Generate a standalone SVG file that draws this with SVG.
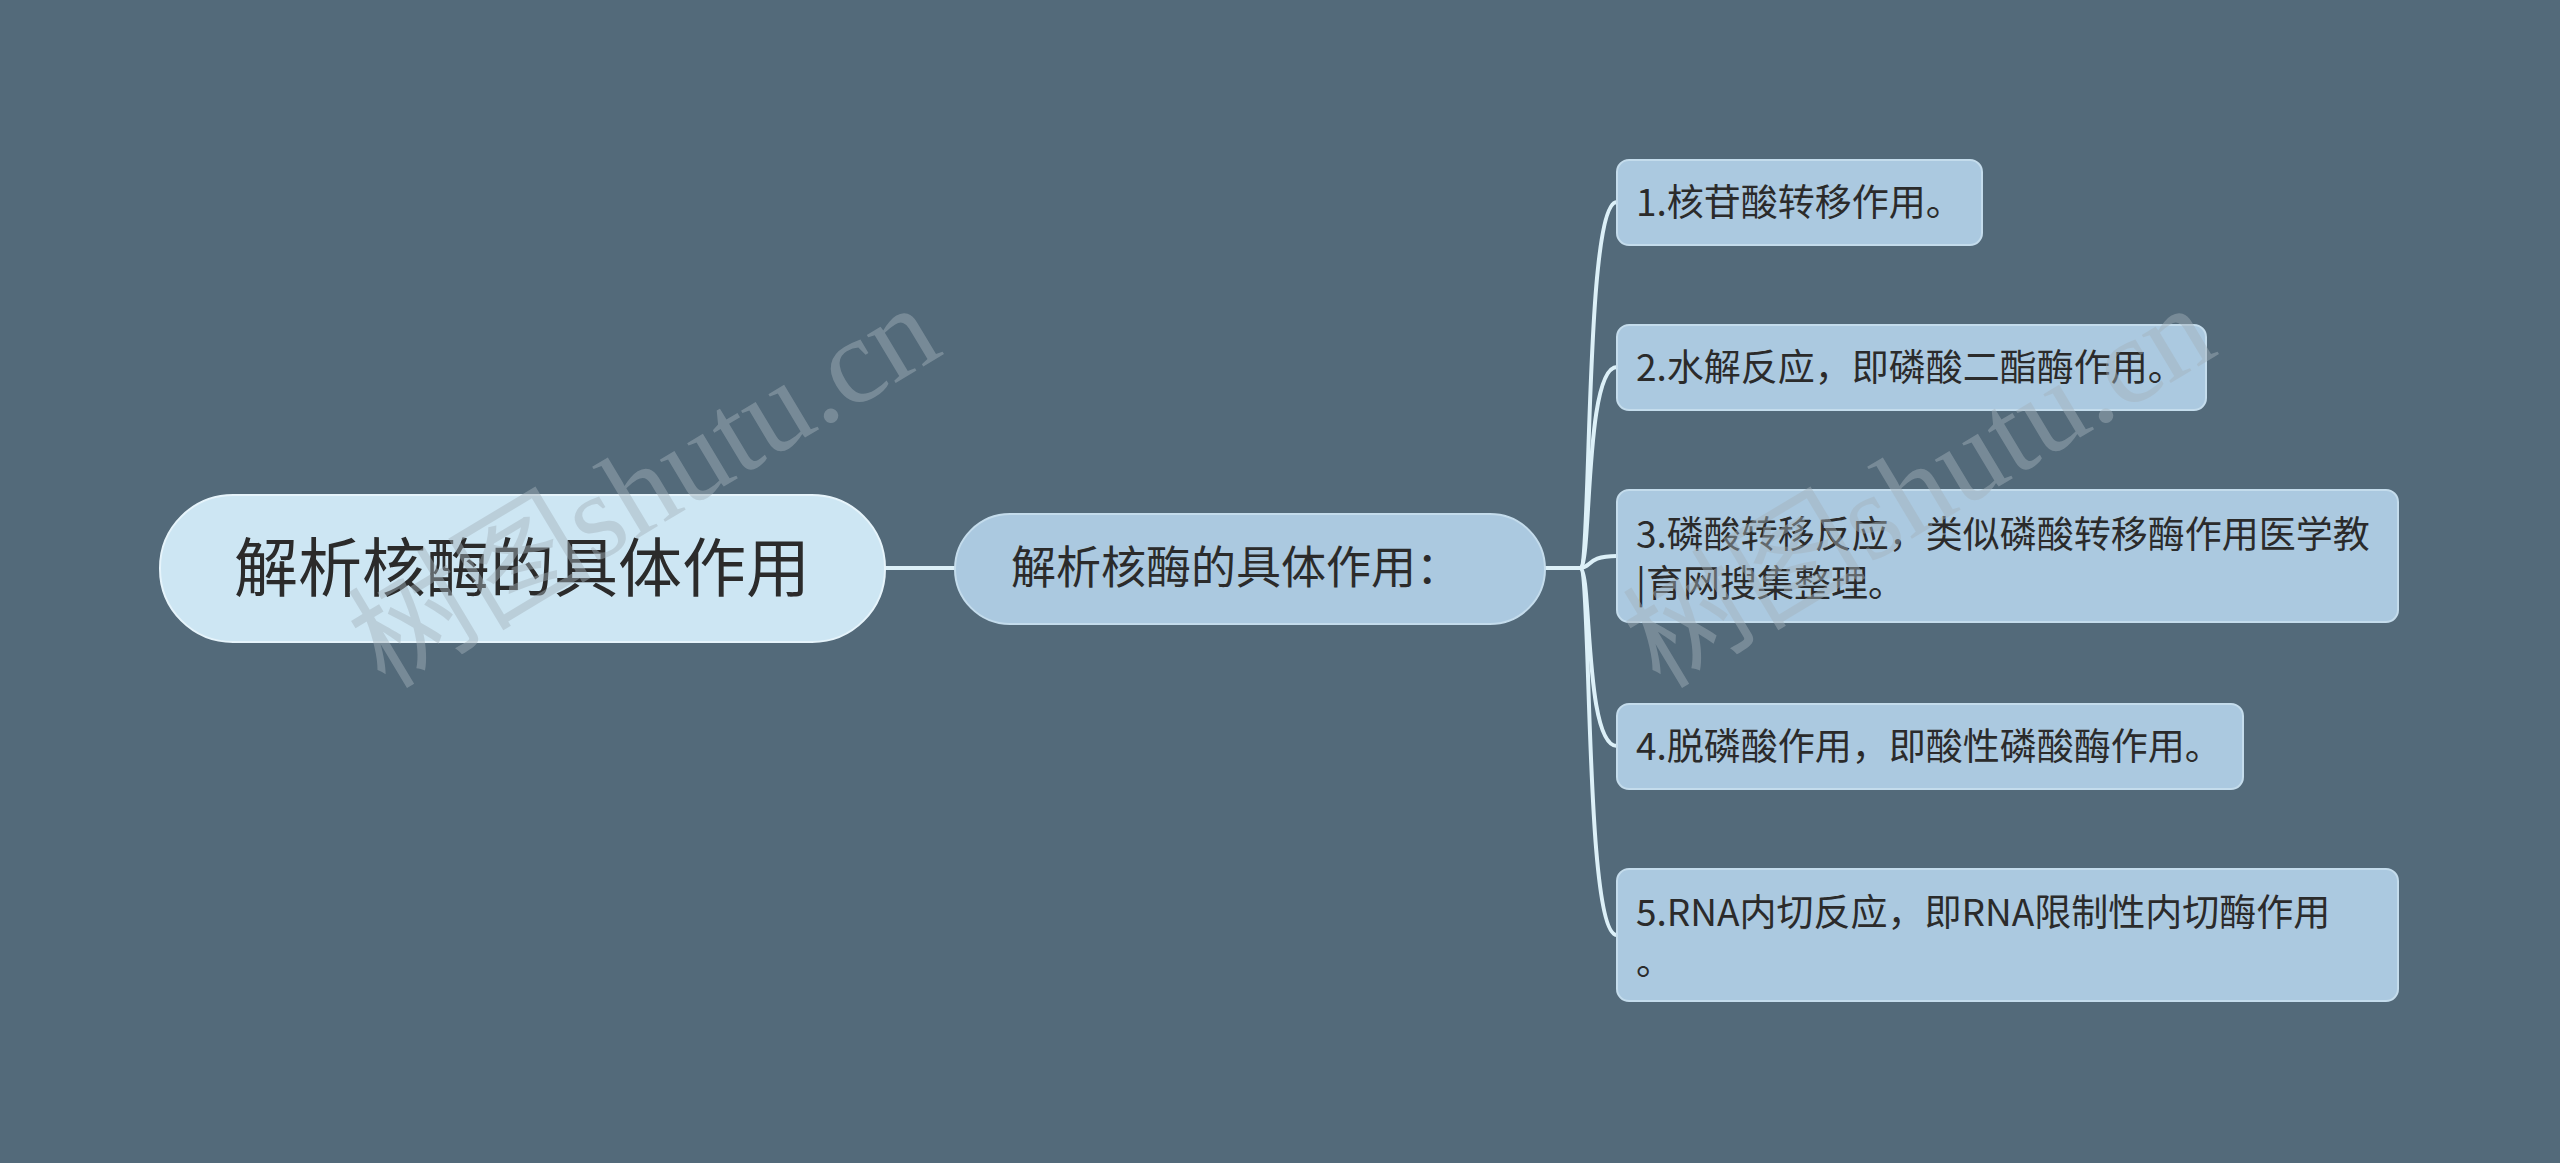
<svg xmlns="http://www.w3.org/2000/svg" width="2560" height="1163" viewBox="0 0 2560 1163">
<style>
.bg{fill:#536a7a}
.root{fill:#cde6f3;stroke:#e6f4fb;stroke-width:2}
.mid{fill:#abc9e0;stroke:#c4dcec;stroke-width:2}
.leaf{fill:#abc9e0;stroke:#c4dcec;stroke-width:2}
text{font-family:"Noto Sans CJK SC","Noto Sans",sans-serif;fill:#2b2b2b}
.t-root{font-size:64px}
.t-mid{font-size:45px}
.t-leaf{font-size:37px}
.conn{fill:none;stroke:#dcf0f8;stroke-width:4}
.wm{font-family:"Liberation Serif","Noto Sans CJK SC",serif;font-size:122px;fill:#a4b2bb;opacity:0.45}
</style>
<rect class="bg" x="0" y="0" width="2560" height="1163"/>
<g id="connectors">
<path class="conn" d="M 885 568 L 955 568"/>
<path class="conn" d="M 1545 568 L 1580 568"/>
<path class="conn" d="M 1580 568 C 1592 568, 1584 202, 1617 202"/>
<path class="conn" d="M 1580 568 C 1592 568, 1584 367, 1617 367"/>
<path class="conn" d="M 1580 568 C 1592 568, 1586 556, 1617 556"/>
<path class="conn" d="M 1580 568 C 1592 568, 1584 746, 1617 746"/>
<path class="conn" d="M 1580 568 C 1592 568, 1584 935, 1617 935"/>
</g>
<g id="root">
<rect class="root" x="160" y="495" width="725" height="147" rx="73"/>
<text class="t-root" x="522" y="591" text-anchor="middle">解析核酶的具体作用</text>
</g>
<g id="mid">
<rect class="mid" x="955" y="514" width="590" height="110" rx="55"/>
<text class="t-mid" x="1011" y="584">解析核酶的具体作用：</text>
</g>
<g id="n1">
<rect class="leaf" x="1617" y="160" width="365" height="85" rx="12"/>
<text class="t-leaf" x="1636" y="216">1.核苷酸转移作用。</text>
</g>
<g id="n2">
<rect class="leaf" x="1617" y="325" width="589" height="85" rx="12"/>
<text class="t-leaf" x="1636" y="381">2.水解反应，即磷酸二酯酶作用。</text>
</g>
<g id="n3">
<rect class="leaf" x="1617" y="490" width="781" height="132" rx="12"/>
<text class="t-leaf" x="1636" y="548">3.磷酸转移反应，类似磷酸转移酶作用医学教</text>
<text class="t-leaf" x="1636" y="597">|育网搜集整理。</text>
</g>
<g id="n4">
<rect class="leaf" x="1617" y="704" width="626" height="85" rx="12"/>
<text class="t-leaf" x="1636" y="760">4.脱磷酸作用，即酸性磷酸酶作用。</text>
</g>
<g id="n5">
<rect class="leaf" x="1617" y="869" width="781" height="132" rx="12"/>
<text class="t-leaf" x="1636" y="926">5.RNA内切反应，即RNA限制性内切酶作用</text>
<text class="t-leaf" x="1636" y="975">。</text>
</g>
<g id="watermarks">
<text class="wm" transform="translate(385 690) rotate(-31)">树图shutu.cn</text>
<text class="wm" transform="translate(1660 690) rotate(-31)">树图shutu.cn</text>
</g>
</svg>
